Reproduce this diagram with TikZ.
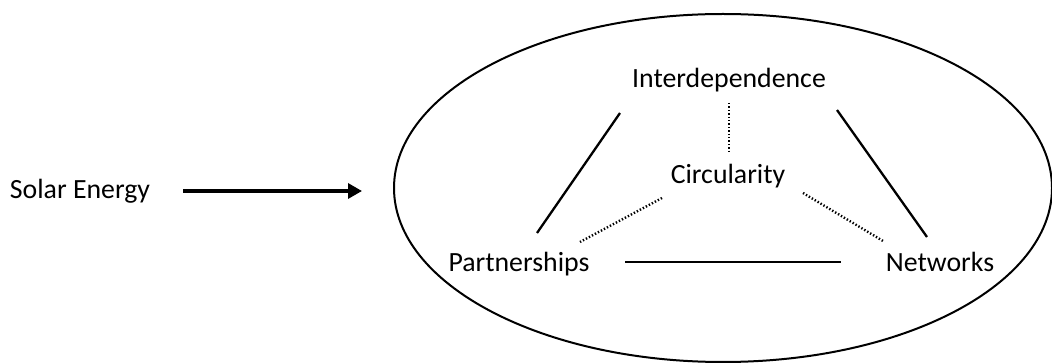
\documentclass[tikz,border=0pt]{standalone}
\usepackage{fontspec}
\setmainfont{Carlito}
\usetikzlibrary{calc,arrows.meta,shapes.geometric}

\tikzset{
  label text/.style={inner sep=0pt, anchor=base, font=\fontsize{27.8}{33}\selectfont},
  solid link/.style={line width=2.3pt},
  dotted link/.style={line width=2.4pt, dash pattern=on 1.4pt off 2pt},
  flow arrow/.style={line width=3.3pt, -{Triangle[length=14pt,width=15pt]}},
  system boundary/.style={draw, ellipse, line width=2pt, inner sep=0pt,
    minimum width=658pt, minimum height=348pt}
}

\begin{document}
\begin{tikzpicture}[x=1pt, y=-1pt]
  \useasboundingbox (0,0) rectangle (1052,363);

  % system boundary
  \node[system boundary] (system) at (723,188) {};

  % labels
  \node[label text] (solar) at (80,199)  {Solar Energy};
  \node[label text] (inter) at (729,88)  {Interdependence};
  \node[label text] (circ)  at (728,184) {Circularity};
  \node[label text] (part)  at (519,272) {Partnerships};
  \node[label text] (net)   at (940,272) {Networks};

  % energy input
  \coordinate (inlet) at ($(system.west)+(-31,3)$);
  \draw[flow arrow] ($(solar.base)+(103,-8)$) -- (inlet);

  % outer triangle
  \draw[solid link] ($(inter.base)+(-109,25)$) -- ($(part.base)+(18,-39)$);
  \draw[solid link] ($(inter.base)+(108,22)$)  -- ($(net.base)+(-13,-35)$);
  \draw[solid link] ($(part.base)+(106,-10)$)  -- ($(net.base)+(-99,-10)$);

  % links to the centre
  \draw[dotted link] ($(inter.base)+(0,15)$)  -- ($(circ.base)+(1,-31)$);
  \draw[dotted link] ($(circ.base)+(-66,14)$) -- ($(part.base)+(61,-30)$);
  \draw[dotted link] ($(circ.base)+(75,9)$)   -- ($(net.base)+(-57,-31)$);
\end{tikzpicture}
\end{document}
